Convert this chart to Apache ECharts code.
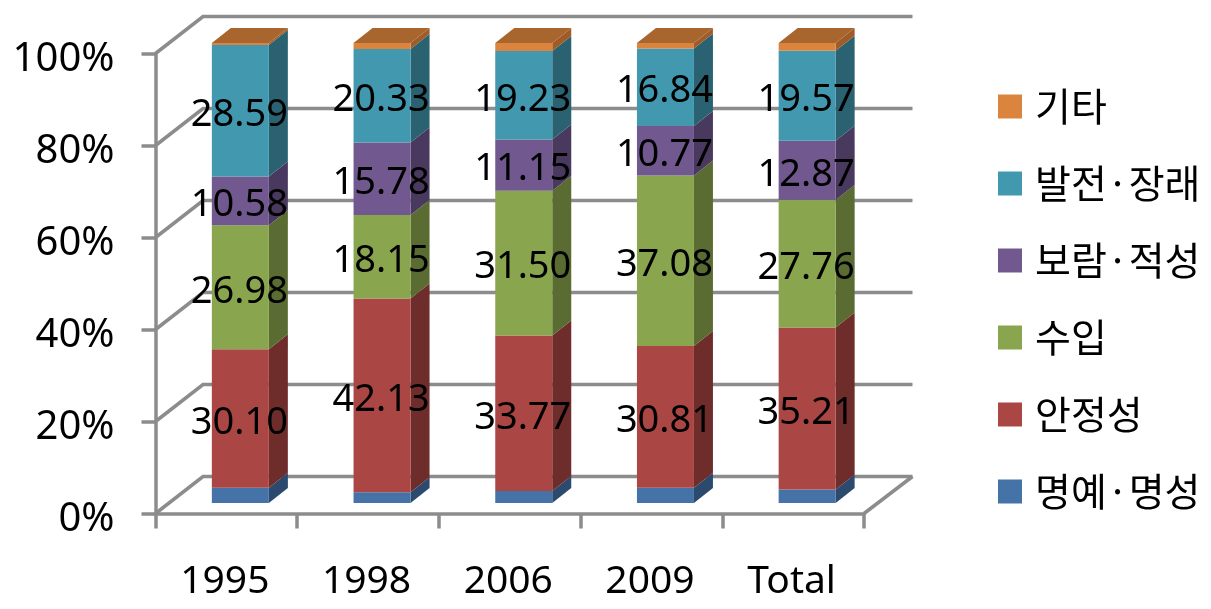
<!DOCTYPE html>
<html><head><meta charset="utf-8">
<style>html,body{margin:0;padding:0;background:#fff}#c{width:1211px;height:609px}</style>
<script src="https://cdn.jsdelivr.net/npm/echarts@6/dist/echarts.min.js"></script>
</head><body><div id="c"></div>
<script>
const categories = ['1995','1998','2006','2009','Total'];
const honor   = [3.3, 2.3, 2.6, 3.3, 2.9];
const safety  = [30.10, 42.13, 33.77, 30.81, 35.21];
const income  = [26.98, 18.15, 31.50, 37.08, 27.76];
const reward  = [10.58, 15.78, 11.15, 10.77, 12.87];
const growth  = [28.59, 20.33, 19.23, 16.84, 19.57];
const other   = [0.45, 1.31, 1.75, 1.2, 1.69];
const yTicks  = [0, 20, 40, 60, 80, 100];

const stackDefs = [
  {name:'명예·명성', values:honor,  front:'#4572A7', side:'#2C4A6E', label:false},
  {name:'안정성',    values:safety, front:'#AA4643', side:'#6E2C2A', label:true},
  {name:'수입',      values:income, front:'#89A54E', side:'#5A6C32', label:true},
  {name:'보람·적성', values:reward, front:'#71588F', side:'#4A395E', label:true},
  {name:'발전·장래', values:growth, front:'#4198AF', side:'#2A6272', label:true},
  {name:'기타',      values:other,  front:'#DB843D', side:'#A05C28', top:'#A8652D', label:false}
];
const FONT = '"Noto Sans", sans-serif';
const KR = '"Noto Sans CJK KR", sans-serif';
const GRAY = '#8C8C8C';
const LW = 3.5;
const WALL = {dx:47.5, dy:-37};      // depth of the plot box
const BAR = {dx:14, dy:-10.6, w:57, sx:19, sy:-15}; // bar placement inside the box

function wallItem(params, api){
  const v = api.value(0), c = params.coordSys;
  const y = api.coord([0, v])[1], l = c.x, r = c.x + c.width;
  const kids = [{type:'polyline', shape:{points:[[l,y],[l+WALL.dx,y+WALL.dy],[r+WALL.dx+1,y+WALL.dy]]},
    style:{stroke:GRAY, lineWidth:LW, fill:null}}];
  if (v === 0) kids.push({type:'line', shape:{x1:r, y1:y, x2:r+WALL.dx+1, y2:y+WALL.dy},
    style:{stroke:GRAY, lineWidth:LW}});
  return {type:'group', children:kids};
}
const cumulative = stackDefs.map((d,k)=>categories.map((_,i)=>
  stackDefs.slice(0,k).reduce((s,o)=>s+o.values[i],0)));

function barItem(def, k){
  return function(params, api){
    const i = api.value(0), base = api.value(1), val = api.value(2);
    const p0 = api.coord([i, base]), p1 = api.coord([i, base+val]);
    const xl = p0[0] + BAR.dx - BAR.w/2, xr = xl + BAR.w;
    const yb = p0[1] + BAR.dy, yt = p1[1] + BAR.dy;
    const kids = [
      {type:'polygon', shape:{points:[[xr,yb],[xr+BAR.sx,yb+BAR.sy],[xr+BAR.sx,yt+BAR.sy],[xr,yt]]}, style:{fill:def.side}},
      {type:'rect', shape:{x:xl,y:yt,width:BAR.w,height:yb-yt}, style:{fill:def.front}}
    ];
    if (def.top) kids.push({type:'polygon', shape:{points:[[xl,yt],[xr,yt],[xr+BAR.sx,yt+BAR.sy],[xl+BAR.sx,yt+BAR.sy]]}, style:{fill:def.top}});
    if (def.label) kids.push({type:'text', z2:100, style:{text:val.toFixed(2), x:(xl+xr)/2-1, y:(yt+yb)/2+4.5,
      align:'center', verticalAlign:'middle', fill:'#000', font:'38px '+FONT}});
    return {type:'group', children:kids};
  };
}
const series = [{
  type:'custom', name:'wall', silent:true, clip:false, z:1, renderItem:wallItem,
  data:yTicks.map(v=>[v]), encode:{y:0}
}].concat(stackDefs.map((d,k)=>({
  type:'custom', name:d.name, silent:true, clip:false, z:2, itemStyle:{color:d.front},
  renderItem:barItem(d,k),
  encode:{x:0, y:1},
  data:categories.map((_,i)=>[i, cumulative[k][i], d.values[i]])
})));

const chart = echarts.init(document.getElementById('c'), null, {renderer:'canvas'});
chart.setOption({
  animation:false, backgroundColor:'#fff',
  grid:{left:155.5, right:347, top:53.5, bottom:95.5, containLabel:false},
  legend:{orient:'vertical', left:998, top:87, padding:0, icon:'rect', itemWidth:24, itemHeight:24, itemGap:38,
    selectedMode:false, data:stackDefs.map(d=>d.name).reverse(),
    textStyle:{fontFamily:KR, fontSize:39, color:'#000', padding:[3,0,0,8]}},
  xAxis:{type:'category', data:categories, axisLine:{lineStyle:{color:GRAY,width:LW}},
    axisTick:{show:true, length:15, lineStyle:{color:GRAY,width:LW}},
    splitLine:{show:false},
    axisLabel:{fontFamily:FONT, fontSize:39, color:'#000', margin:49, padding:[0,3,0,0]}},
  yAxis:{type:'value', min:0, max:100, interval:20,
    axisLine:{show:true, lineStyle:{color:GRAY,width:LW}},
    axisTick:{show:true, length:14, lineStyle:{color:GRAY,width:LW}},
    splitLine:{show:false},
    axisLabel:{formatter:'{value}%', fontFamily:FONT, fontSize:40, color:'#000', margin:41, verticalAlign:'top', lineHeight:12}},
  tooltip:{show:false},
  series:series
});
</script></body></html>
